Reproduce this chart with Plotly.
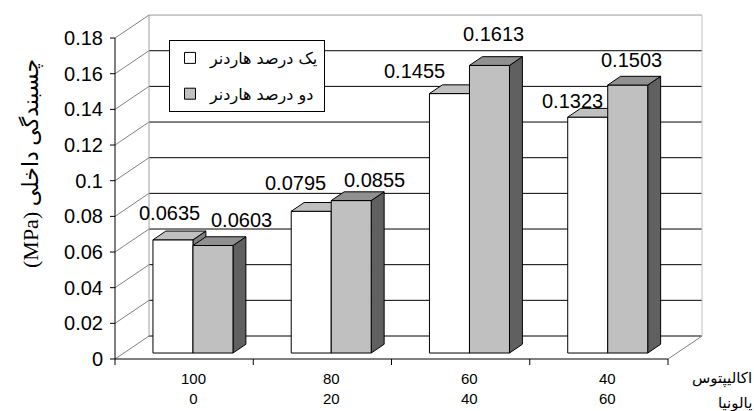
import plotly.graph_objects as go

# Mix ratios (eucalyptus / paulownia, %)
eucalyptus = ["100", "80", "60", "40"]
paulownia = ["0", "20", "40", "60"]

# Internal bond (MPa) for 1 % and 2 % hardener
one_pct = [0.0635, 0.0795, 0.1455, 0.1323]
two_pct = [0.0603, 0.0855, 0.1613, 0.1503]
series_names = ["یک درصد هاردنر", "دو درصد هاردنر"]

y_ticks = [0, 0.02, 0.04, 0.06, 0.08, 0.1, 0.12, 0.14, 0.16, 0.18]
y_tick_text = ["0", "0.02", "0.04", "0.06", "0.08", "0.1", "0.12", "0.14", "0.16", "0.18"]

# ---- pseudo-3D geometry (data units) ----
W, H = 754, 411
ML, MR, MT, MB = 114, 50, 13, 50
PW, PH = W - ML - MR, H - MT - MB
PX_CAT = 138.25            # pixels per category
PX_VAL = 1783.0            # pixels per MPa
X_LO = -1 / PX_CAT
X_HI = X_LO + PW / PX_CAT
Y_LO = -2 / PX_VAL
Y_HI = Y_LO + PH / PX_VAL

DX = 34 / PX_CAT           # depth of the floor along x
DY = 23 / PX_VAL           # depth of the floor along y
D0, D1 = 0.26, 0.64        # front / back depth of the columns
BAR_W = 40 / PX_CAT
Y_MAX = y_ticks[-1]
N = len(eucalyptus)

RLE, PDF = "\u202b", "\u202c"


def proj(x, v, d):
    return x + d * DX, v + d * DY


def px_to_paper_x(dx_px):
    return dx_px / PW


def px_to_paper_y(dy_px):
    return dy_px / PH


faces = {
    0: dict(front="#FFFFFF", top="#C0C0C0", side="#808080"),
    1: dict(front="#C0C0C0", top="#909090", side="#606060"),
}

fig = go.Figure()


def poly(pts, color):
    xs = [p[0] for p in pts] + [pts[0][0]]
    ys = [p[1] for p in pts] + [pts[0][1]]
    fig.add_trace(go.Scatter(
        x=xs, y=ys, mode="lines", fill="toself", fillcolor=color,
        line=dict(color="#000000", width=1), hoverinfo="skip", showlegend=False))


series = [one_pct, two_pct]
for i in range(N):
    for s, vals in enumerate(series):
        v = vals[i]
        x0 = i + 0.5 - BAR_W + s * BAR_W
        x1 = x0 + BAR_W
        c = faces[s]
        poly([proj(x1, 0, D0), proj(x1, 0, D1), proj(x1, v, D1), proj(x1, v, D0)], c["side"])
        poly([proj(x0, 0, D0), proj(x1, 0, D0), proj(x1, v, D0), proj(x0, v, D0)], c["front"])
        poly([proj(x0, v, D0), proj(x1, v, D0), proj(x1, v, D1), proj(x0, v, D1)], c["top"])

# legend entries
for s, name in enumerate(series_names):
    fig.add_trace(go.Scatter(
        x=[None], y=[None], mode="markers", name=name, legendgroup=name,
        marker=dict(symbol="square", size=11, color=faces[s]["front"],
                    line=dict(color="#000000", width=1))))

shapes = []


def seg(x0, y0, x1, y1, color, width=1, xref="x", yref="y"):
    shapes.append(dict(type="line", x0=x0, y0=y0, x1=x1, y1=y1, xref=xref, yref=yref,
                       line=dict(color=color, width=width), layer="below"))


# back wall gridlines and edges
for v in y_ticks:
    bx0, by = proj(0, v, 1)
    bx1, _ = proj(N, v, 1)
    col = "#9a9a9a" if v == Y_MAX else "#000000"
    seg(bx0, by, bx1, by, col)
    # side wall diagonals
    seg(0, v, bx0, by, "#808080")
seg(*proj(0, 0, 1), *proj(0, Y_MAX, 1), "#a0a0a0")
seg(*proj(N, 0, 1), *proj(N, Y_MAX, 1), "#c0c0c0")
# floor
seg(0, 0, N, 0, "#000000")
seg(N, 0, *proj(N, 0, 1), "#808080")
# front value axis
seg(0, 0, 0, Y_MAX, "#000000")

# tick marks
p0x = (0 - X_LO) / (X_HI - X_LO)
p0y = (0 - Y_LO) / (Y_HI - Y_LO)
for v in y_ticks:
    seg(p0x, v, p0x - px_to_paper_x(5), v, "#000000", xref="paper")
for i in range(N + 1):
    seg(i, p0y, i, p0y - px_to_paper_y(6), "#000000", yref="paper")

annotations = []

# value labels (pixel nudges per label)
label_shift = [[(-3, 27), (29, 26)], [(-16, 28), (23, 21)],
               [(-35, 23), (4, 31)], [(-15, 16), (4, 25)]]
for i in range(N):
    for s, vals in enumerate(series):
        v = vals[i]
        xc = i + 0.5 - BAR_W / 2 + s * BAR_W
        x, y = proj(xc, v, D0)
        sx, sy = label_shift[i][s]
        annotations.append(dict(
            x=x, y=y, xref="x", yref="y", text=f"{v:.4f}", showarrow=False,
            xanchor="center", yanchor="middle", xshift=sx, yshift=sy,
            font=dict(family="Liberation Sans, Arial, sans-serif", size=20, color="#000000")))

# category labels
for i in range(N):
    annotations.append(dict(
        x=i + 0.5, y=p0y, xref="x", yref="paper", xshift=9, yshift=-9,
        text=f"{eucalyptus[i]}<br>{paulownia[i]}", showarrow=False,
        xanchor="center", yanchor="top",
        font=dict(family="Liberation Sans, Arial, sans-serif", size=15, color="#000000")))

# species names at the right of the category axis
annotations.append(dict(x=1, y=p0y, xref="paper", yref="paper", xanchor="right", yanchor="middle",
                        xshift=50, yshift=-19, text="اکالیپتوس", showarrow=False,
                        font=dict(family="DejaVu Sans, sans-serif", size=15, color="#000000")))
annotations.append(dict(x=1, y=p0y, xref="paper", yref="paper", xanchor="right", yanchor="middle",
                        xshift=50, yshift=-44, text="پالونیا", showarrow=False,
                        font=dict(family="DejaVu Sans, sans-serif", size=15, color="#000000")))

# value axis title (right-to-left run)
annotations.append(dict(x=0, y=p0y, xref="paper", yref="paper", xanchor="center", yanchor="middle",
                        xshift=-84, yshift=195, textangle=-90,
                        text=RLE + "چسبندگی داخلی (MPa)" + PDF,
                        showarrow=False,
                        font=dict(family="Liberation Serif, DejaVu Sans, serif", size=22, color="#000000")))

fig.update_layout(
    width=W, height=H,
    margin=dict(l=ML, r=MR, t=MT, b=MB, pad=0),
    paper_bgcolor="#FFFFFF", plot_bgcolor="#FFFFFF",
    xaxis=dict(range=[X_LO, X_HI], showgrid=False, zeroline=False, showline=False,
               showticklabels=False, ticks="", fixedrange=True),
    yaxis=dict(range=[Y_LO, Y_HI], showgrid=False, zeroline=False, showline=False,
               tickvals=y_ticks, ticktext=y_tick_text, ticks="outside", ticklen=6,
               tickcolor="rgba(0,0,0,0)",
               tickfont=dict(family="Liberation Sans, Arial, sans-serif", size=20, color="#000000"),
               fixedrange=True),
    shapes=shapes,
    annotations=annotations,
    showlegend=True,
    legend=dict(x=(169 - ML) / PW, y=(H - MB - 40) / PH, xanchor="left", yanchor="top",
                bgcolor="#FFFFFF", bordercolor="#000000", borderwidth=1,
                tracegroupgap=12, itemwidth=30,
                font=dict(family="DejaVu Sans, sans-serif", size=16, color="#000000")),
)

fig.write_html("out.html")
